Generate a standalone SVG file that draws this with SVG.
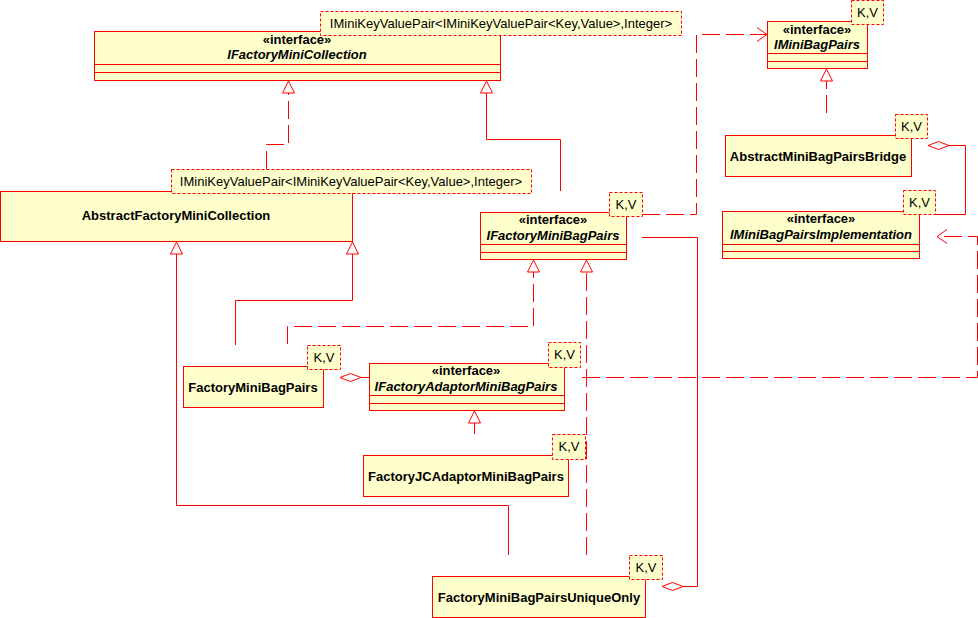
<svg xmlns="http://www.w3.org/2000/svg" width="978" height="618" viewBox="0 0 978 618">
<style>
.box{fill:#ffffcc;stroke:#ff0000;stroke-width:1}
.tpl{fill:#ffffcc;stroke:#ff0000;stroke-width:1;stroke-dasharray:3,2}
.sep{stroke:#ff0000;stroke-width:1;fill:none}
.t{font-family:"Liberation Sans",Arial,sans-serif;font-size:13px;fill:#000;text-anchor:middle}
.b{font-weight:bold}
.i{font-style:italic;font-weight:bold}
.ln{fill:none;stroke:#ff0000;stroke-width:1}
.dash{stroke-dasharray:18,6}
</style>
<defs>
<marker id="tri" markerUnits="userSpaceOnUse" markerWidth="14" markerHeight="14" refX="12" refY="6" orient="auto" overflow="visible">
<path d="M12,6 L0,0 L0,12 Z" fill="#ffffff" stroke="#ff0000" stroke-width="1" stroke-dasharray="none"/>
</marker>
<marker id="open" markerUnits="userSpaceOnUse" markerWidth="14" markerHeight="16" refX="10" refY="7" orient="auto" overflow="visible">
<path d="M0,0 L10,7 L0,14" fill="none" stroke="#ff0000" stroke-width="1" stroke-dasharray="none"/>
</marker>
<marker id="dia" markerUnits="userSpaceOnUse" markerWidth="24" markerHeight="10" refX="0" refY="4" orient="auto" overflow="visible">
<path d="M0,4 L10.5,0 L21,4 L10.5,8 Z" fill="#ffffff" stroke="#ff0000" stroke-width="1" stroke-dasharray="none"/>
</marker>
</defs>

<g id="connectors">
<path class="ln dash" d="M266.5,169 V144.5 H288.5 V81" marker-end="url(#tri)"/>
<path class="ln" d="M560.5,191 V139.5 H486.5 V81" marker-end="url(#tri)"/>
<path class="ln dash" d="M642,214.5 H696.5 V34.5 H767" marker-end="url(#open)"/>
<path class="ln dash" d="M826.5,113 V69" marker-end="url(#tri)"/>
<path class="ln" d="M928,145.5 H965.5 V214.5 H935" marker-start="url(#dia)"/>
<path class="ln" d="M662,586.5 H697.5 V237.5 H642" marker-start="url(#dia)"/>
<path class="ln" d="M235.5,345 V300.5 H352.5 V242" marker-end="url(#tri)"/>
<path class="ln dash" d="M287.5,344 V326.5 H533.5 V260" marker-end="url(#tri)"/>
<path class="ln dash" d="M586.5,555 V260" marker-end="url(#tri)"/>
<path class="ln" d="M508.5,555 V505.5 H176.5 V242" marker-end="url(#tri)"/>
<path class="ln" d="M340,377.5 H369" marker-start="url(#dia)"/>
<path class="ln" d="M474.5,434 V411" marker-end="url(#tri)"/>
<path class="ln dash" d="M582,377.5 H977.5 V236.5 H937" marker-end="url(#open)"/>
</g>

<g id="IFactoryMiniCollection">
<rect class="box" x="94.5" y="31.5" width="406" height="49"/>
<path class="sep" d="M94.5,64.5 H500.5 M94.5,72.5 H500.5"/>
<text class="t b" x="297" y="44">«interface»</text>
<text class="t i" x="297" y="59">IFactoryMiniCollection</text>
<rect class="tpl" x="320.5" y="11.5" width="361" height="24"/>
<text class="t" x="501" y="28">IMiniKeyValuePair&lt;IMiniKeyValuePair&lt;Key,Value&gt;,Integer&gt;</text>
</g>

<g id="IMiniBagPairs">
<rect class="box" x="767.5" y="21.5" width="100" height="47"/>
<path class="sep" d="M767.5,53.5 H867.5 M767.5,61.5 H867.5"/>
<text class="t b" x="817" y="34">«interface»</text>
<text class="t i" x="817" y="49">IMiniBagPairs</text>
<rect class="tpl" x="851.5" y="0.5" width="32" height="24"/>
<text class="t" x="867.5" y="17">K,V</text>
</g>

<g id="AbstractMiniBagPairsBridge">
<rect class="box" x="725.5" y="135.5" width="186" height="41"/>
<text class="t b" x="818" y="161">AbstractMiniBagPairsBridge</text>
<rect class="tpl" x="895.5" y="114.5" width="32" height="24"/>
<text class="t" x="911.5" y="131">K,V</text>
</g>

<g id="IMiniBagPairsImplementation">
<rect class="box" x="722.5" y="211.5" width="197" height="47"/>
<path class="sep" d="M722.5,244.5 H919.5 M722.5,251.5 H919.5"/>
<text class="t b" x="821" y="223">«interface»</text>
<text class="t i" x="821" y="239">IMiniBagPairsImplementation</text>
<rect class="tpl" x="903.5" y="190.5" width="32" height="24"/>
<text class="t" x="919.5" y="207">K,V</text>
</g>

<g id="AbstractFactoryMiniCollection">
<rect class="box" x="0.5" y="191.5" width="352" height="50"/>
<text class="t b" x="176" y="220">AbstractFactoryMiniCollection</text>
<rect class="tpl" x="171.5" y="169.5" width="360" height="24"/>
<text class="t" x="351" y="186">IMiniKeyValuePair&lt;IMiniKeyValuePair&lt;Key,Value&gt;,Integer&gt;</text>
</g>

<g id="IFactoryMiniBagPairs">
<rect class="box" x="480.5" y="212.5" width="146" height="47"/>
<path class="sep" d="M480.5,244.5 H626.5 M480.5,252.5 H626.5"/>
<text class="t b" x="553" y="224">«interface»</text>
<text class="t i" x="553" y="240">IFactoryMiniBagPairs</text>
<rect class="tpl" x="609.5" y="192.5" width="33" height="24"/>
<text class="t" x="626" y="209">K,V</text>
</g>

<g id="FactoryMiniBagPairs">
<rect class="box" x="183.5" y="366.5" width="140" height="41"/>
<text class="t b" x="253" y="392">FactoryMiniBagPairs</text>
<rect class="tpl" x="307.5" y="345.5" width="33" height="24"/>
<text class="t" x="324" y="362">K,V</text>
</g>

<g id="IFactoryAdaptorMiniBagPairs">
<rect class="box" x="369.5" y="363.5" width="195" height="47"/>
<path class="sep" d="M369.5,395.5 H564.5 M369.5,403.5 H564.5"/>
<text class="t b" x="466" y="375">«interface»</text>
<text class="t i" x="466" y="391">IFactoryAdaptorMiniBagPairs</text>
<rect class="tpl" x="548.5" y="342.5" width="32" height="25"/>
<text class="t" x="564.5" y="359">K,V</text>
</g>

<g id="FactoryJCAdaptorMiniBagPairs">
<rect class="box" x="363.5" y="455.5" width="205" height="41"/>
<text class="t b" x="466" y="481">FactoryJCAdaptorMiniBagPairs</text>
<rect class="tpl" x="552.5" y="434.5" width="33" height="25"/>
<text class="t" x="569" y="451">K,V</text>
</g>

<g id="FactoryMiniBagPairsUniqueOnly">
<rect class="box" x="432.5" y="576.5" width="213" height="41"/>
<text class="t b" x="539" y="602">FactoryMiniBagPairsUniqueOnly</text>
<rect class="tpl" x="629.5" y="555.5" width="33" height="24"/>
<text class="t" x="646" y="572">K,V</text>
</g>
</svg>
